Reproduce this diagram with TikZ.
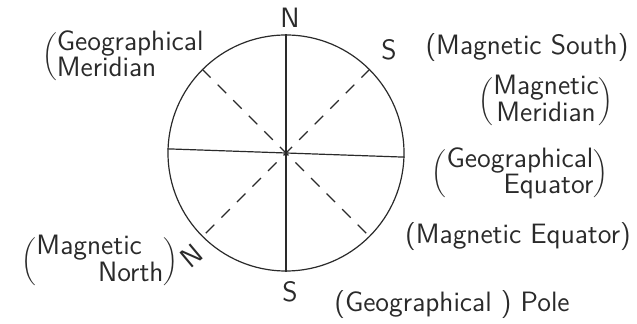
\documentclass[tikz,border=0pt]{standalone}
\usetikzlibrary{positioning}
\definecolor{inkdark}{HTML}{2A2A2A}
\renewcommand{\arraystretch}{0.78}

\begin{document}
\begin{tikzpicture}[x=0.5pt, y=-0.5pt, font=\sffamily\fontsize{14}{15}\selectfont, text=inkdark,
    lbl/.style={inner sep=0pt},
    axisln/.style={draw=inkdark, line width=0.6pt},
    magln/.style={draw=inkdark, line width=0.6pt, dash pattern=on 6pt off 5pt}]
  \useasboundingbox (0,0) rectangle (637,324);
  \node[circle, draw=inkdark, line width=0.6pt, minimum size=118pt, inner sep=0pt] (compass) at (286,153) {};
  \draw[axisln] (compass.north) -- (compass.south);
  \draw[axisln] (compass.178) -- (compass.-2);
  \draw[magln] (compass.north west) -- (compass.south east);
  \draw[magln] (compass.north east) -- (compass.south west);
  \node[lbl] (geoN) at (290,18) {N};
  \node[lbl] (geoS) at (290,292) {S};
  \node[lbl] (magS) at (389,50) {S};
  \node[lbl, rotate=40] (magN) at (192,256) {N};
  \node[lbl] (geomer) at (124,57)
    {$\left(\vcenter{\hbox{\begin{tabular}{@{}l@{}}Geographical\\Meridian\end{tabular}}}\right.$};
  \node[lbl] (magsouth) at (527,48) {(Magnetic South)};
  \node[lbl] (magmer) at (546,102)
    {$\left(\vcenter{\hbox{\begin{tabular}{@{}c@{}}Magnetic\\Meridian\end{tabular}}}\right)$};
  \node[lbl] (geoequ) at (520,174)
    {$\left(\vcenter{\hbox{\begin{tabular}{@{}r@{}}Geographical\\Equator\end{tabular}}}\right)$};
  \node[lbl] (magequ) at (518,237) {(Magnetic Equator)};
  \node[lbl] (geopole) at (452,305) {(Geographical ) Pole};
  \node[lbl] (magnorth) at (100,262)
    {$\left(\vcenter{\hbox{\begin{tabular}{@{}l@{}}Magnetic\\\hspace*{2.2em}North\end{tabular}}}\right)$};
\end{tikzpicture}
\end{document}
